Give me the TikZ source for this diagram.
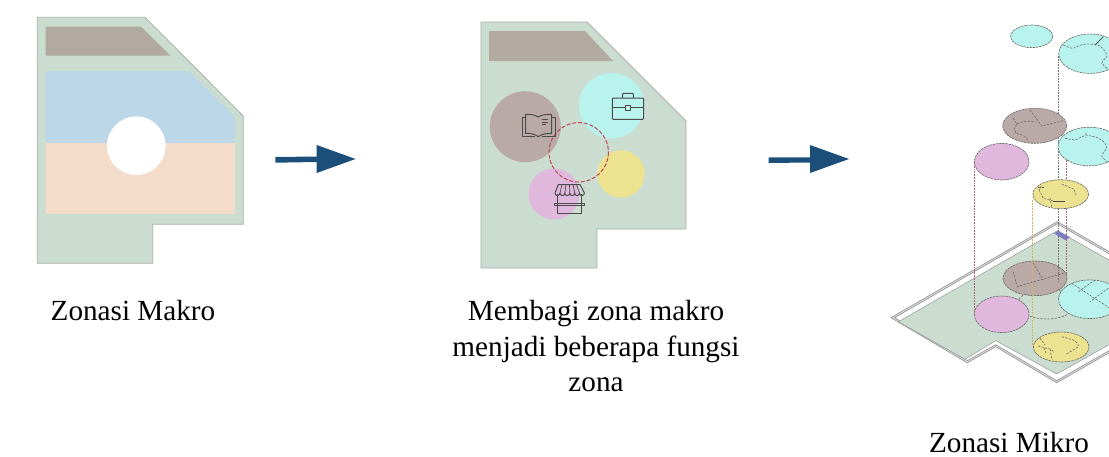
\documentclass[tikz,border=0pt]{standalone}
\usepackage{fontspec}
\setmainfont{Liberation Serif}
\definecolor{site}{RGB}{203,220,208}
\definecolor{siteedge}{RGB}{170,175,172}
\definecolor{roof}{RGB}{178,170,160}
\definecolor{zblue}{RGB}{188,215,232}
\definecolor{zpeach}{RGB}{244,220,203}
\definecolor{zbrown}{RGB}{186,170,167}
\definecolor{zcyan}{RGB}{184,243,238}
\definecolor{zyellow}{RGB}{236,226,143}
\definecolor{zpink}{RGB}{224,184,221}
\definecolor{zred}{RGB}{190,70,85}
\definecolor{arrowblue}{RGB}{28,78,122}
\definecolor{icon}{RGB}{75,75,75}
\definecolor{purp}{RGB}{165,100,125}
\definecolor{gold}{RGB}{214,178,90}
\definecolor{wallgray}{RGB}{150,150,150}
\definecolor{patch}{RGB}{125,125,200}
\tikzset{
  siteshape/.style={fill=site,draw=siteedge,line width=.8pt},
  label/.style={font=\fontsize{29.2}{35.5}\selectfont,inner sep=0pt,align=center,text=black},
  bigarrow/.style={fill=arrowblue,draw=none},
  iconline/.style={draw=icon,line width=1pt,line join=round},
  ell/.style={draw=black!60,line width=.6pt,dash pattern=on 2.4pt off .8pt},
  detail/.style={draw=black!60,line width=.6pt,dash pattern=on 2.2pt off 1.4pt},
  riser/.style={line width=.65pt,dash pattern=on 1.8pt off 1pt},
}
\begin{document}
\begin{tikzpicture}[x=1pt,y=-1pt]
\useasboundingbox (0,0) rectangle (1109,456);
\clip (0,0) rectangle (1109,456);
% ---- panel 1
\path[siteshape] (37.3,17.3) -- (145,17.3) -- (243.3,116) -- (243.3,224.3) -- (152.7,224.3) -- (152.7,263.3) -- (37.3,263.3) -- cycle;
\fill[roof] (45.7,26.7) -- (141,26.7) -- (170.7,55.7) -- (45.7,55.7) -- cycle;
\fill[zblue] (45.7,71) -- (188.3,71) -- (234.7,116.7) -- (234.7,143.3) -- (45.7,143.3) -- cycle;
\fill[zpeach] (45.7,143.3) rectangle (234.7,214.3);
\fill[white] (136.3,145.7) circle[radius=29.3];
\node[label,anchor=base] (makro) at (133,320) {Zonasi Makro};
% arrow 1
\fill[bigarrow] (275.3,157) -- (316.7,156.5) -- (316.7,145) -- (355.5,159) -- (316.7,173) -- (316.7,162) -- (275.3,162.7) -- cycle;
% ---- panel 2
\path[siteshape] (481,22) -- (587,22) -- (686,121) -- (686,229) -- (597,229) -- (597,268) -- (481,268) -- cycle;
\fill[roof] (489,31) -- (585,31) -- (613,61) -- (489,61) -- cycle;
\fill[zbrown] (525.3,126.7) circle[radius=35.5];
\fill[zcyan] (611.7,105.7) circle[radius=32.7];
\fill[zyellow] (621,174) circle[radius=23.7];
\fill[zpink] (554,194) circle[radius=25.5];
\draw[zred,line width=1pt,dash pattern=on 4pt off 1.8pt] (578.7,152.3) circle[radius=29.7];
% briefcase icon
\draw[iconline,rounded corners=.8pt] (612.3,98) rectangle (643.5,119.3);
\draw[iconline] (612.3,107.7) -- (625,107.7) (630.3,107.7) -- (643.5,107.7);
\draw[iconline] (625,105) rectangle (630.3,110);
\draw[iconline,rounded corners=.8pt] (622.7,98) -- (622.7,93.3) -- (633.3,93.3) -- (633.3,98);
% book icon
\draw[iconline] (525.7,117.5) -- (522.3,117.5) -- (522.3,136.7) -- (535,136.7) (551.7,117.5) -- (555,117.5) -- (555,136.7) -- (542,136.7);
\draw[iconline] (538.3,117) .. controls (534,114.5) and (530,114.2) .. (525.7,114.5) -- (525.7,133.5) .. controls (530,133) and (535,134) .. (538.3,136.7) .. controls (542,134) and (547,133) .. (551.7,133.5) -- (551.7,114.5) .. controls (547,114.2) and (542,114.5) .. (538.3,117) -- cycle;
\draw[iconline,line width=.7pt] (541.5,119.5) -- (548,119.5) (541.5,122) -- (548,122) (541.5,124.5) -- (545.5,124.5);
% shop icon
\draw[iconline] (557,194) -- (557,213.3) -- (581.7,213.3) -- (581.7,194);
\draw[iconline] (554.5,203.5) rectangle (584.5,205.7);
\draw[iconline] (558.3,184.5) -- (580,184.5) -- (584.4,193) arc[start angle=0,end angle=180,x radius=2.45,y radius=2.6] arc[start angle=0,end angle=180,x radius=2.45,y radius=2.6] arc[start angle=0,end angle=180,x radius=2.45,y radius=2.6] arc[start angle=0,end angle=180,x radius=2.45,y radius=2.6] arc[start angle=0,end angle=180,x radius=2.45,y radius=2.6] arc[start angle=0,end angle=180,x radius=2.45,y radius=2.6] -- cycle;
\draw[iconline,line width=.7pt] (562,184.5) -- (560,193) (566,184.5) -- (564.9,193) (569.5,184.5) -- (569.8,193) (573,184.5) -- (574.7,193) (576.5,184.5) -- (579.6,193);
\node[label] (membagi) at (596,346.5) {Membagi zona makro\\menjadi beberapa fungsi\\zona};
% arrow 2
\fill[bigarrow] (768.5,157.5) -- (810,157.3) -- (810,145) -- (849,159) -- (810,173) -- (810,162.5) -- (768.5,163) -- cycle;
% ---- panel 3: floor
\draw[wallgray,line width=1pt,double=white,double distance=.5pt,line join=miter] (1120,259) -- (1057.3,222.7) -- (892.7,317.7) -- (967.3,361.7) -- (995.7,345.7) -- (1056.7,381.7) -- (1120,345.5);
\fill[site] (1120,266.3) -- (1057.3,230.7) -- (898.3,321.7) -- (965,359.3) -- (995.7,340.7) -- (1056.7,374) -- (1120,338.5) -- cycle;
\draw[wallgray,line width=.5pt] (1120,266.3) -- (1057.3,230.7) -- (898.3,321.7) -- (965,359.3) -- (995.7,340.7) -- (1056.7,374) -- (1120,338.5);
\fill[patch] (1054,233.3) -- (1058.3,230.7) -- (1070,237.3) -- (1065,240) -- cycle;
% floor ellipses
\draw[detail] (1046.7,304) ellipse[x radius=29,y radius=15];
\path[ell,fill=zbrown] (1035,278.3) ellipse[x radius=32,y radius=17.3];
\path[ell,fill=zcyan] (1090,299.2) ellipse[x radius=31.5,y radius=19.3];
\path[ell,fill=zpink] (1001.7,314.3) ellipse[x radius=27.3,y radius=18.3];
\path[ell,fill=zyellow] (1061.2,347) ellipse[x radius=27.8,y radius=15];
% risers
\draw[riser,purp] (974.3,163) -- (974.3,312);
\draw[riser,black!55] (1058.3,56) -- (1058.3,180);
\draw[riser,purp] (1066.2,160) -- (1066.2,180);
\draw[riser,black!55] (1058.3,208) -- (1058.3,282);
\draw[riser,purp] (1066.2,208) -- (1066.2,276);
\draw[riser,gold,line width=.9pt] (1032.8,200) -- (1032.8,345);
% floating ellipses
\path[ell,fill=zcyan] (1031.7,36.3) ellipse[x radius=21,y radius=11.3];
\path[ell,fill=zcyan] (1090,53.7) ellipse[x radius=31.3,y radius=19.7];
\path[ell,fill=zbrown] (1034.7,125.8) ellipse[x radius=32,y radius=17.5];
\path[ell,fill=zcyan] (1089.3,146.5) ellipse[x radius=31.3,y radius=19.3];
\path[ell,fill=zpink] (1001.7,161.7) ellipse[x radius=27.3,y radius=18.3];
\path[ell,fill=zyellow] (1060.7,194.2) ellipse[x radius=27.8,y radius=14.5];
% linework on the floating ellipses
\draw[detail] (1030,110) -- (1041.7,126) -- (1063.3,120.7) (1013.3,118.3) -- (1016.7,124) .. controls (1022,121) and (1030,120.5) .. (1036,122) (1016.7,124) .. controls (1014,128) and (1014,131) .. (1016,133.3) .. controls (1022,134.5) and (1027,136) .. (1028.3,141.7);
\draw[detail] (1063.3,45) .. controls (1068,47) and (1071,48.5) .. (1073.3,48.3) .. controls (1078,46) and (1082,44) .. (1086.7,44) .. controls (1092,44) and (1097,44.5) .. (1100,46) .. controls (1104,49) and (1107,53) .. (1106.7,56.7) .. controls (1105,59) and (1102,61) .. (1101.7,63.3) -- (1108.3,70);
\draw[icon,line width=.7pt] (1095,45) -- (1103.3,36.7);
\draw[detail] (1065,138.3) -- (1075,140) -- (1086,135) -- (1096.7,137.3) .. controls (1103,140) and (1107,144) .. (1106.7,148.3) .. controls (1105,151) and (1102,154) .. (1101.7,156.7) -- (1108.3,163.3) (1086,133) -- (1086,137.5);
\draw[detail] (1061.7,184) -- (1074,189.3) -- (1076,195) (1053.3,201) -- (1043.3,198.3) -- (1039.3,190) -- (1041.7,185) (1038,187.5) -- (1045,187.5) (1050,197.7) -- (1051.7,207);
\draw[icon,line width=.8pt] (1053.3,201) -- (1065,201);
% linework on the floor ellipses
\draw[detail] (1013.3,271.7) -- (1016.7,285) (1033.3,263.3) -- (1043.3,280) (1016.7,286.7) -- (1063.3,273.3);
\draw[detail] (1071.7,283.3) -- (1110,308.3) (1095,280) -- (1078.3,291.7) (1108.3,288.3) -- (1090,301.7);
\draw[detail] (1061.7,336.7) -- (1073.3,340) .. controls (1077,342) and (1079,345) .. (1078.3,346.7) -- (1066.7,354) (1040,338.3) -- (1045,345) (1038,346) -- (1050,349) -- (1054,352) (1044,348) -- (1046,353) (1050,349) -- (1052,360);
\node[label,anchor=base] (mikro) at (1009,452) {Zonasi Mikro};
\end{tikzpicture}
\end{document}
